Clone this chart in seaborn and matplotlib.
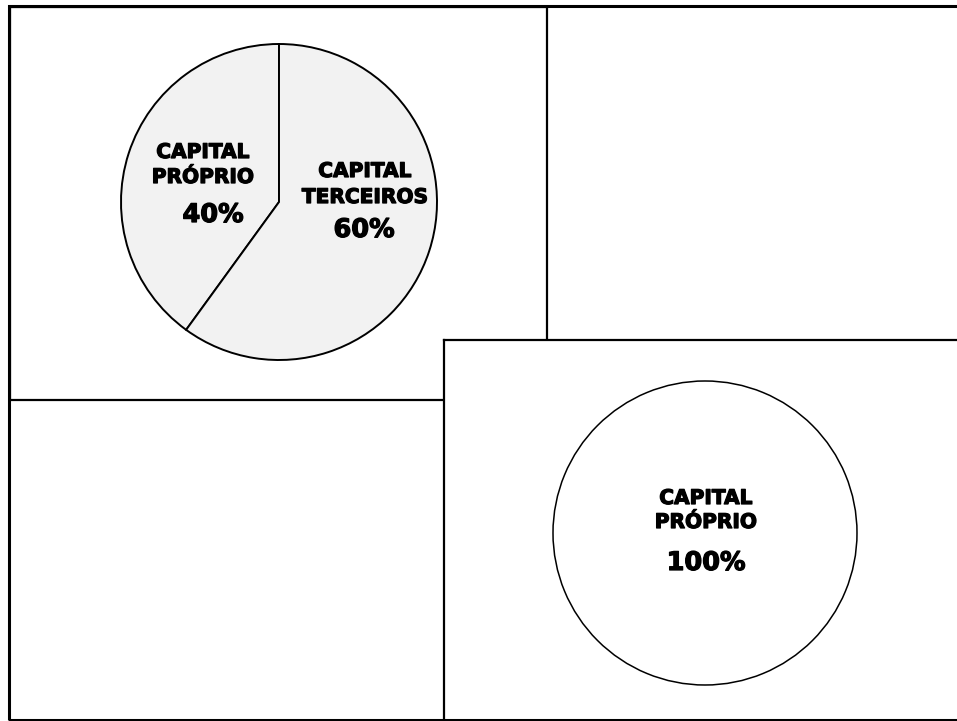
import matplotlib
matplotlib.use("Agg")
import matplotlib.pyplot as plt
import matplotlib.patheffects as pe
from matplotlib.patches import Rectangle
import seaborn as sns

# Capital structure shares (percent)
left_categories = ["CAPITAL\nPRÓPRIO", "CAPITAL\nTERCEIROS"]
left_shares = [40, 60]
right_categories = ["CAPITAL\nPRÓPRIO"]
right_shares = [100]

sns.set_style("white")
plt.rcParams["font.family"] = ["DejaVu Sans"]

W, H = 957, 721
fig = plt.figure(figsize=(W / 100, H / 100), dpi=100)
fig.patch.set_facecolor("white")


def panel(x0, y0, x1, y1, z):
    """Axes whose data units are pixels measured from the top-left corner."""
    ax = fig.add_axes([x0 / W, (H - y1) / H, (x1 - x0) / W, (y1 - y0) / H])
    ax.set_xlim(x0, x1)
    ax.set_ylim(y1, y0)
    ax.set_xticks([])
    ax.set_yticks([])
    ax.set_facecolor("white")
    for s in ax.spines.values():
        s.set_color("black")
        s.set_linewidth(1.6)
        s.set_visible(True)
    ax.set_zorder(z)
    return ax


# Outer frame
fig.add_artist(Rectangle((8.5 / W, (H - 719.5) / H), (980 - 8.5) / W, (719.5 - 5.5) / H,
                         transform=fig.transFigure, fill=False,
                         edgecolor="black", linewidth=2.2, zorder=5))

ax1 = panel(10, 7, 547, 400, 1)
ax2 = panel(444, 340, 975, 722, 2)

heavy = [pe.withStroke(linewidth=0.9, foreground="black")]
label_font = dict(fontsize=14.5, fontweight="bold", color="black", ha="center",
                  va="baseline", path_effects=heavy)
pct_font = dict(fontsize=18.4, fontweight="bold", color="black", ha="center",
                va="baseline", path_effects=heavy)

# Left pie: 40 / 60 split, starting at the top and sweeping to the left
ax1.pie(left_shares, center=(279, 202), radius=158, startangle=-90, counterclock=False,
        colors=["#f2f2f2", "#f2f2f2"],
        wedgeprops=dict(edgecolor="black", linewidth=1.4), frame=True)
ax1.set_xlim(10, 547)
ax1.set_ylim(400, 7)
ax1.set_aspect("auto")

left_label_pos = [(203, [158, 183], 213, 222), (365, [177, 203], 364, 237)]
for cat, val, (lx, lys, px, py) in zip(left_categories, left_shares, left_label_pos):
    for line, ly in zip(cat.split("\n"), lys):
        ax1.text(lx, ly, line, **label_font)
    ax1.text(px, py, f"{val}%", **pct_font)

# Right pie: a single full share
ax2.pie(right_shares, center=(705, 533), radius=152, startangle=90,
        colors=["white"], wedgeprops=dict(edgecolor="black", linewidth=1.1), frame=True)
ax2.set_xlim(444, 975)
ax2.set_ylim(722, 340)
ax2.set_aspect("auto")

for cat, val in zip(right_categories, right_shares):
    for line, ly in zip(cat.split("\n"), [504, 528]):
        ax2.text(706, ly, line, **label_font)
    ax2.text(706, 570, f"{val}%", **pct_font)

for ax in (ax1, ax2):
    ax.set_xticks([])
    ax.set_yticks([])

fig.savefig("out.png", dpi=100, facecolor="white")
